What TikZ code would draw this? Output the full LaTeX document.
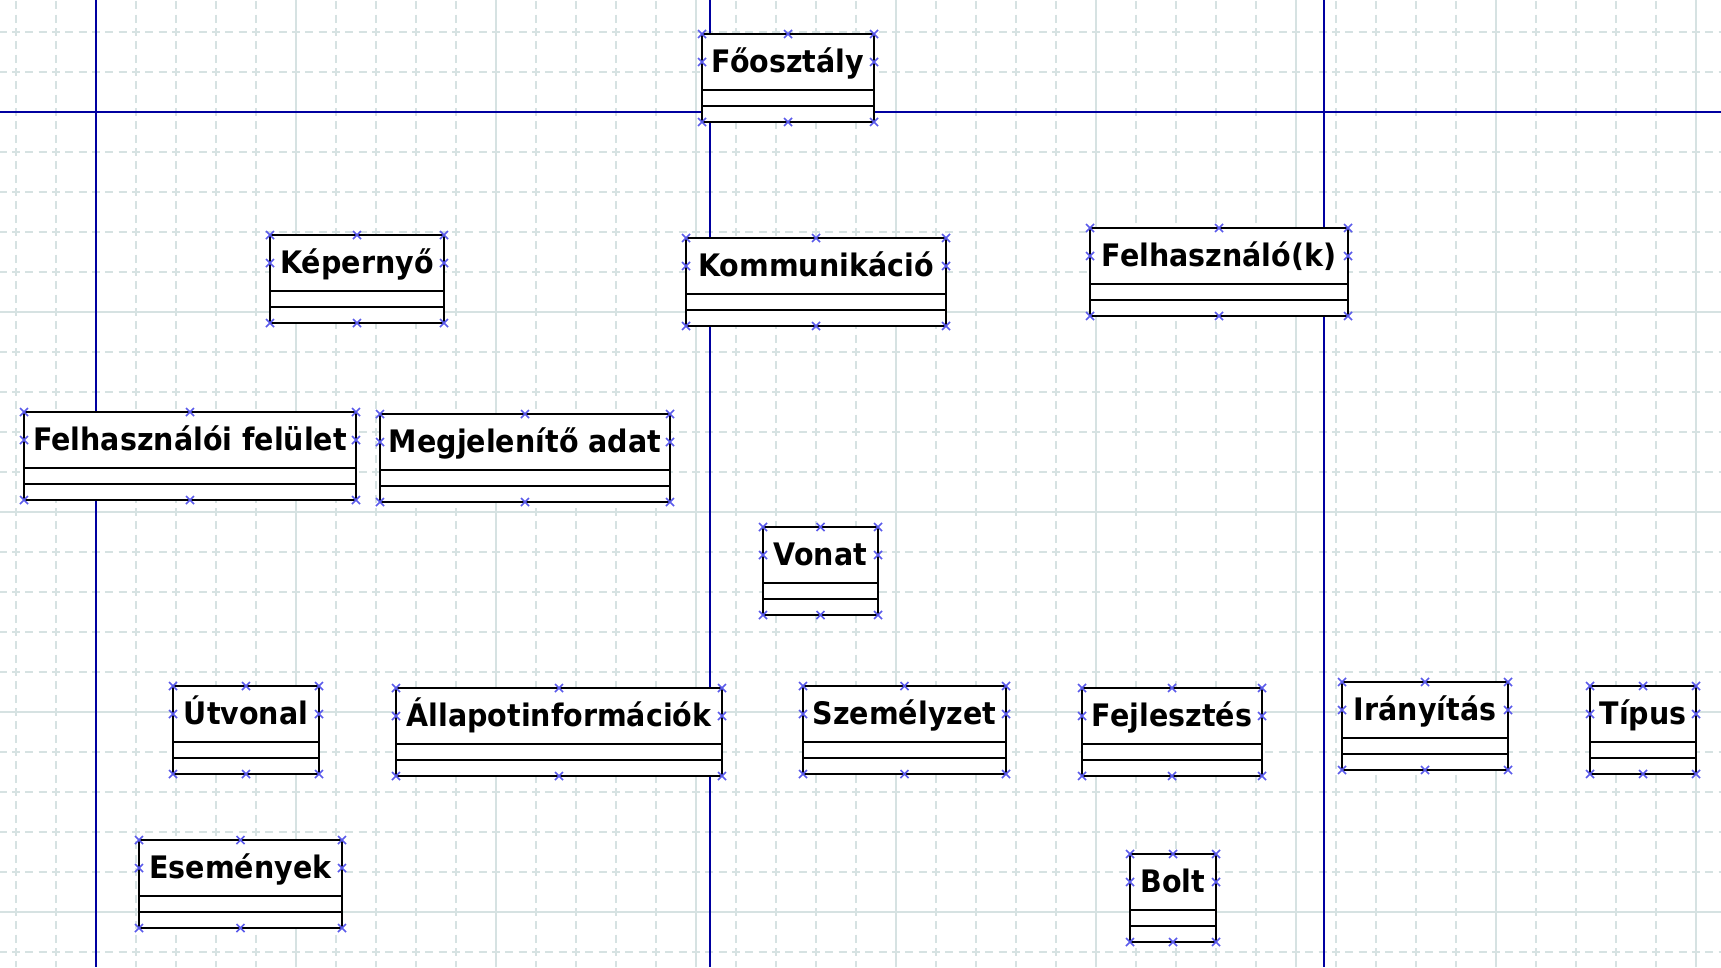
\documentclass[tikz,border=0pt]{standalone}
\usepackage{fontspec}
\setmainfont{DejaVu Sans}[FakeStretch=0.92]
\usepackage{tikz}
\usetikzlibrary{positioning}
\definecolor{gridline}{RGB}{214,226,226}
\definecolor{guide}{RGB}{0,0,160}
\definecolor{handlecol}{RGB}{90,90,235}

\begin{document}
\begin{tikzpicture}[
  x=1pt,y=-1pt,
  gridd/.style={gridline,line width=2pt,dash pattern=on 8pt off 5.3333pt},
  grids/.style={gridline,line width=2pt},
  guideline/.style={guide,line width=2pt},
  clsname/.style={rectangle,draw,fill=white,line width=2pt,outer sep=0pt,inner sep=0pt,anchor=north west,minimum height=56pt,font=\fontsize{31}{35}\selectfont\bfseries,text height=24pt,text depth=4pt},
  clscomp/.style={rectangle,draw,fill=white,line width=2pt,outer sep=0pt,inner sep=0pt,minimum height=16pt},
  handle/.style={handlecol,line width=1.5pt}
]
\useasboundingbox (0,0) rectangle (1721,967);
\clip (0,0) rectangle (1721,967);
\fill[white] (0,0) rectangle (1721,967);
% grid
\foreach \k in {0,...,42}{
  \pgfmathtruncatemacro\r{mod(\k,5)}
  \ifnum\r=2 \draw[grids] (16+40*\k,0) -- (16+40*\k,967);
  \else \draw[gridd] (16+40*\k,-12) -- (16+40*\k,967); \fi
}
\foreach \k in {0,...,23}{
  \pgfmathtruncatemacro\r{mod(\k,5)}
  \ifnum\r=2 \draw[grids] (0,32+40*\k) -- (1721,32+40*\k);
  \else \draw[gridd] (-28,32+40*\k) -- (1721,32+40*\k); \fi
}
% guide lines
\draw[guideline] (96,0) -- (96,967);
\draw[guideline] (710,0) -- (710,967);
\draw[guideline] (1324,0) -- (1324,967);
\draw[guideline] (0,112) -- (1721,112);
% classes
\foreach \n/\x/\y/\w/\lbl in {
  fo/702/34/172/Főosztály,
  kep/270/235/174/Képernyő,
  komm/686/238/260/Kommunikáció,
  felh/1090/228/258/Felhasználó(k),
  felulet/24/412/332/Felhasználói felület,
  megj/380/414/290/Megjelenítő adat,
  vonat/763/527/115/Vonat,
  utv/173/686/146/Útvonal,
  allapot/396/688/326/Állapotinformációk,
  szem/803/686/203/Személyzet,
  fejl/1082/688/180/Fejlesztés,
  iran/1342/682/166/Irányítás,
  tipus/1590/686/106/Típus,
  esem/139/840/203/Események,
  bolt/1130/854/86/Bolt}{
  \node[clsname,minimum width=\w pt] (\n) at (\x,\y) {\lbl};
  \node[clscomp,minimum width=\w pt,below=0pt of \n] (\n-attr) {};
  \node[clscomp,minimum width=\w pt,below=0pt of \n-attr] (\n-ops) {};
  \foreach \anc in {north west,north,north east,west,east}
    \draw[handle] (\n.\anc) +(-4,-4) -- +(4,4) +(-4,4) -- +(4,-4);
  \foreach \anc in {south west,south,south east}
    \draw[handle] (\n-ops.\anc) +(-4,-4) -- +(4,4) +(-4,4) -- +(4,-4);
}
\end{tikzpicture}
\end{document}
